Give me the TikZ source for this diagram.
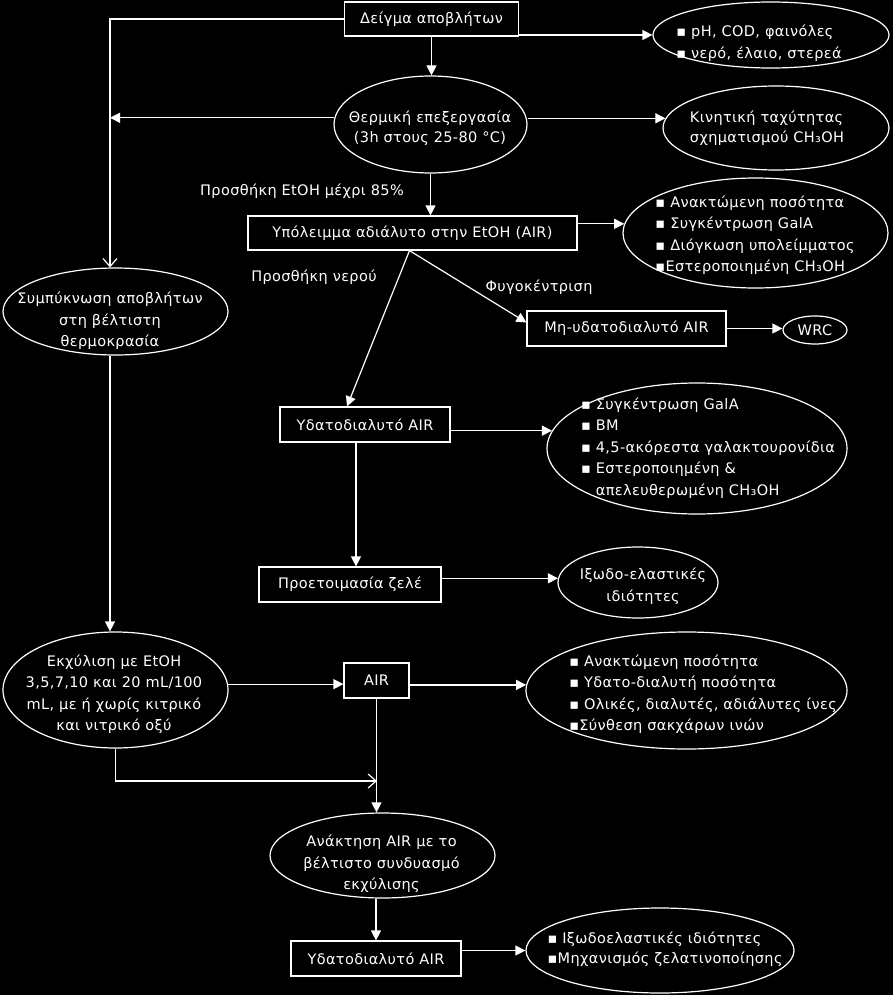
\documentclass[tikz,border=0pt]{standalone}
\usepackage{fontspec}
\setmainfont{DejaVu Sans}[LetterSpace=2.5]
\usetikzlibrary{arrows.meta,shapes.geometric}
\begin{document}
\begin{tikzpicture}[x=1pt, y=-1pt,
  every node/.style = {text=white, font=\fontsize{14.5}{21.5}\selectfont},
  box/.style = {rectangle, draw=white, line width=1.2pt, inner sep=0pt,
    minimum height=35pt},
  ell/.style = {ellipse, draw=white, line width=1.2pt, inner sep=0pt},
  txt/.style = {align=center, inner sep=0pt},
  lst/.style = {align=left, inner sep=0pt},
  arr/.style = {white, line width=1.2pt, -{Triangle[length=10pt,width=10pt]}},
  barb/.style = {white, line width=1.2pt, -{Straight Barb[length=8pt,width=14pt]}}
  ]
  \fill[black] (0,0) rectangle (893,995);
  \coordinate (lft) at (110,19);
  \coordinate (mrg) at (377,781);

  \node[box, minimum width=174pt, minimum height=34pt] (sample) at (431.5,19) {Δείγμα αποβλήτων};
  \node[ell, minimum width=236pt, minimum height=66pt] (props) at (771,35) {};
  \node[lst] (propsT) at (759,43) {▪ pH, COD, φαινόλες\\▪ νερό, έλαιο, στερεά};

  \node[ell, minimum width=193pt, minimum height=97pt] (heat) at (430.5,124.5) {};
  \node[txt, font=\fontsize{14.5}{20}\selectfont] (heatT) at (430,128) {Θερμική επεξεργασία\\(3h στους 25-80 °C)};
  \node[ell, minimum width=226pt, minimum height=84pt] (kin) at (776,128) {};
  \node[lst, font=\fontsize{14.5}{20}\selectfont] (kinT) at (767,128) {Κινητική ταχύτητας\\σχηματισμού CH₃OH};

  \node (etoh) at (302,191) {Προσθήκη EtOH  μέχρι 85\%};
  \node[box, minimum width=329pt, minimum height=34pt] (air1) at (412.5,233) {Υπόλειμμα αδιάλυτο στην EtOH (AIR)};
  \node[ell, minimum width=265pt, minimum height=110pt] (rec) at (755.5,233) {};
  \node[lst] (recT) at (755,235) {▪ Ανακτώμενη ποσότητα\\▪ Συγκέντρωση GalA\\▪ Διόγκωση υπολείμματος\\▪Εστεροποιημένη CH₃OH};

  \node (water) at (314,277) {Προσθήκη νερού};
  \node (centr) at (539,287) {Φυγοκέντριση};
  \node[box, minimum width=199pt] (insol) at (626.5,328.5) {Μη-υδατοδιαλυτό AIR};
  \node[ell, minimum width=64pt, minimum height=28pt] (wrc) at (815,330) {WRC};

  \node[ell, minimum width=225pt, minimum height=87pt] (conc) at (115.5,311.5) {};
  \node[txt] (concT) at (110,321) {Συμπύκνωση αποβλήτων\\στη βέλτιστη\\θερμοκρασία};

  \node[box, minimum width=170pt] (sol1) at (365,424.5) {Υδατοδιαλυτό AIR};
  \node[ell, minimum width=300pt, minimum height=131pt] (gala) at (697,448.5) {};
  \node[lst] (galaT) at (708,448) {▪ Συγκέντρωση GalA\\▪ BM\\▪ 4,5-ακόρεστα γαλακτουρονίδια\\▪ Εστεροποιημένη \&\\\hphantom{▪ }απελευθερωμένη CH₃OH};

  \node[box, minimum width=182pt] (gel) at (350,584.5) {Προετοιμασία ζελέ};
  \node[ell, minimum width=160pt, minimum height=71pt] (visc) at (638,582.5) {};
  \node[txt] (viscT) at (643,586) {Ιξωδο-ελαστικές\\ιδιότητες};

  \node[ell, minimum width=225pt, minimum height=116pt] (extr) at (115.5,690) {};
  \node[txt] (extrT) at (114,694) {Εκχύλιση με EtOH\\3,5,7,10 και 20 mL/100\\mL, με ή χωρίς κιτρικό\\και νιτρικό οξύ};
  \node[box, minimum width=65pt] (air2) at (376.5,680.5) {AIR};
  \node[ell, minimum width=321pt, minimum height=117pt] (rec2) at (686.5,690.5) {};
  \node[lst] (rec2T) at (703,694) {▪ Ανακτώμενη ποσότητα\\▪ Υδατο-διαλυτή ποσότητα\\▪ Ολικές, διαλυτές, αδιάλυτες ίνες\\▪Σύνθεση σακχάρων ινών};

  \node[ell, minimum width=225pt, minimum height=85pt] (best) at (382.5,855.5) {};
  \node[txt] (bestT) at (381.5,864) {Ανάκτηση AIR με το\\βέλτιστο συνδυασμό\\εκχύλισης};
  \node[box, minimum width=170pt] (sol2) at (376,958.5) {Υδατοδιαλυτό AIR};
  \node[ell, minimum width=268pt, minimum height=85pt] (visc2) at (660,950.5) {};
  \node[lst, font=\fontsize{14.5}{20}\selectfont] (visc2T) at (665,949) {▪ Ιξωδοελαστικές ιδιότητες\\▪Μηχανισμός ζελατινοποίησης};

  \draw[barb] (sample.west) -| (lft |- conc.north);
  \draw[arr] (heat.176) -- (heat.176 -| lft);
  \draw[arr] (sample.south) -- (sample.south |- heat.north);
  \draw[arr] (sample.east |- props.west) -- (props.west);
  \draw[arr] (kin.175 -| heat.east) -- (kin.175);
  \draw[arr] (heat.south) -- (heat.south |- air1.north);
  \draw[arr] (rec.176 -| air1.east) -- (rec.176);
  \draw[arr] ([xshift=-3pt]air1.south) -- ([xshift=-18pt]sol1.north);
  \draw[arr] ([xshift=-3pt]air1.south) -- ([yshift=6pt]insol.west);
  \draw[arr] (insol.east) -- (insol.east -| wrc.west);
  \draw[arr] (gala.173 -| sol1.east) -- (gala.173);
  \draw[arr] ([xshift=-9pt]sol1.south) -- ([xshift=-9pt]sol1.south |- gel.north);
  \draw[arr] (visc.177 -| gel.east) -- (visc.177);
  \draw[arr] (lft |- conc.south) -- (lft |- extr.north);
  \draw[arr] (extr.3) -- (extr.3 -| air2.west);
  \draw[arr] (rec2.178 -| air2.east) -- (rec2.178);
  \draw[barb] (extr.south) |- (mrg);
  \draw[arr] (air2.south) -- (air2.south |- best.north);
  \draw[arr] (sol2.north |- best.south) -- (sol2.north);
  \draw[arr] (visc2.west -| sol2.east) -- (visc2.west);
\end{tikzpicture}
\end{document}
